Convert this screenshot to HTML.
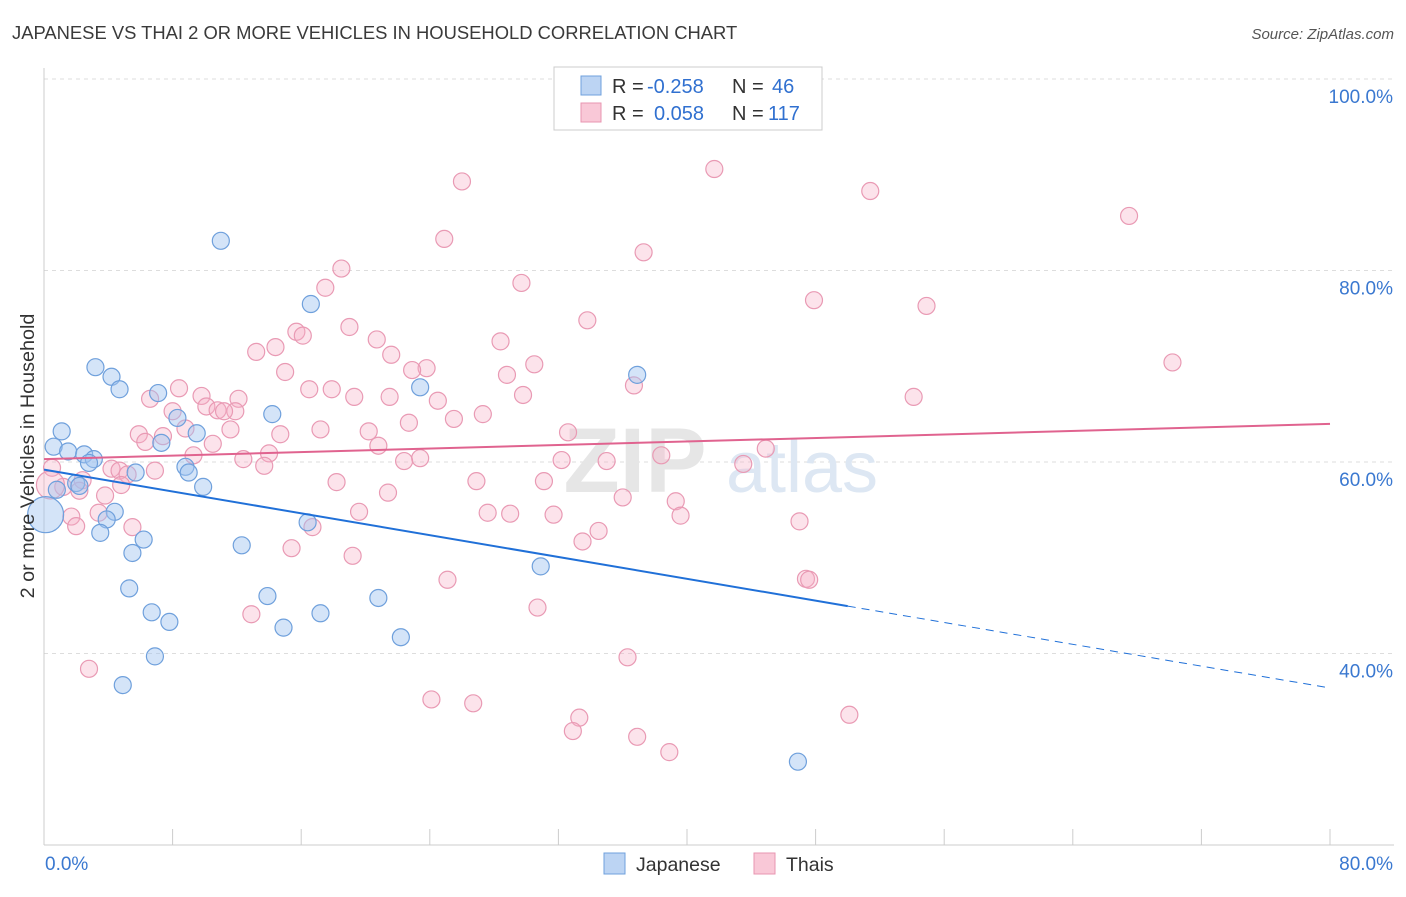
<!DOCTYPE html>
<html><head><meta charset="utf-8">
<style>
body{margin:0;background:#fff;font-family:"Liberation Sans",sans-serif;}
svg text{font-family:"Liberation Sans",sans-serif;}
</style></head>
<body>
<svg id="chart" width="1406" height="892" xmlns="http://www.w3.org/2000/svg">
<text x="12" y="39" font-size="18.4" fill="#3a3a3a">JAPANESE VS THAI 2 OR MORE VEHICLES IN HOUSEHOLD CORRELATION CHART</text>
<text x="1394" y="39" font-size="15" fill="#555" font-style="italic" text-anchor="end">Source: ZipAtlas.com</text>
<g id="grid"></g>
<g>
<text x="635" y="492" font-size="92" fill="#e6e6e6" font-family="Liberation Serif" text-anchor="middle" font-weight="bold">ZIP</text>
<text x="802" y="492" font-size="72" fill="#dde7f3" text-anchor="middle">atlas</text>
</g>
<g id="points"></g>
<g id="lines"></g>
<text transform="translate(34,456) rotate(-90)" font-size="19.8" fill="#333" text-anchor="middle">2 or more Vehicles in Household</text>
<g>
<rect x="554" y="67" width="268" height="63" fill="#fff" stroke="#ccc"/>
<rect x="581" y="76" width="20" height="19" fill="#bcd4f3" stroke="#6fa0dc"/>
<rect x="581" y="103" width="20" height="19" fill="#f9c8d7" stroke="#e896b0"/>
<text x="612" y="93" font-size="20" fill="#333">R =</text>
<text x="647" y="93" font-size="20" fill="#3070d0">-0.258</text>
<text x="732" y="93" font-size="20" fill="#333">N =</text>
<text x="772" y="93" font-size="20" fill="#3070d0">46</text>
<text x="612" y="120" font-size="20" fill="#333">R =</text>
<text x="654" y="120" font-size="20" fill="#3070d0">0.058</text>
<text x="732" y="120" font-size="20" fill="#333">N =</text>
<text x="768" y="120" font-size="20" fill="#3070d0">117</text>
</g>
<g>
<rect x="604" y="853" width="21" height="21" fill="#bcd4f3" stroke="#6fa0dc"/>
<text x="636" y="871" font-size="19.5" fill="#333">Japanese</text>
<rect x="754" y="853" width="21" height="21" fill="#f9c8d7" stroke="#e896b0"/>
<text x="786" y="871" font-size="19.5" fill="#333">Thais</text>
</g>
</svg>
<script>
const xTicks=[0,8,16,24,32,40,48,56,64,72,80];
const yTicks=[40,60,80,100];
const yTickLabels=["40.0%","60.0%","80.0%","100.0%"];
const xEndLabels=["0.0%","80.0%"];
const japX=[11.0,16.6,3.2,4.2,4.7,7.1,8.3,14.2,23.4,36.9,1.1,0.6,1.5,2.5,3.1,2.8,7.3,9.5,8.8,9.0,5.7,9.9,2.0,2.2,0.8,4.4,3.9,16.4,3.5,6.2,12.3,5.5,30.9,5.3,13.9,20.8,6.7,17.2,7.8,14.9,22.2,6.9,4.9,46.9,0.1];
const japY=[83.1,76.5,69.9,68.9,67.6,67.2,64.6,65.0,67.8,69.1,63.2,61.6,61.1,60.8,60.3,59.9,62.0,63.0,59.5,58.9,58.9,57.4,57.8,57.5,57.1,54.8,54.0,53.7,52.6,51.9,51.3,50.5,49.1,46.8,46.0,45.8,44.3,44.2,43.3,42.7,41.7,39.7,36.7,28.7,54.5];
const thaiX=[26.0,41.7,51.4,67.5,24.9,37.3,18.5,29.7,17.5,47.9,54.9,33.8,19.0,15.7,16.1,20.7,28.4,14.4,13.2,21.6,70.2,30.5,23.8,22.9,15.0,28.8,36.7,8.4,16.5,17.9,6.6,9.8,12.1,19.3,21.5,29.8,54.1,24.5,10.1,8.0,10.8,11.9,11.2,27.3,25.5,22.7,11.6,5.9,8.8,7.4,17.2,20.2,32.6,14.7,6.3,10.5,20.8,44.9,14.0,9.3,38.4,23.4,12.4,22.4,32.2,35.0,43.5,13.7,0.5,4.2,4.7,6.9,5.2,2.4,18.2,26.9,31.1,4.8,1.2,2.2,21.4,3.8,36.0,39.3,3.4,27.6,29.0,31.7,19.6,39.6,1.7,47.0,16.7,2.0,5.5,34.5,33.5,15.4,19.2,25.1,47.4,47.6,30.7,12.9,2.8,36.3,24.1,26.7,33.3,50.1,32.9,36.9,38.9,0.4];
const thaiY=[89.3,90.6,88.3,85.7,83.3,81.9,80.2,78.7,78.2,76.9,76.3,74.8,74.1,73.6,73.2,72.8,72.6,72.0,71.5,71.2,70.4,70.2,69.8,69.6,69.4,69.1,68.0,67.7,67.6,67.6,66.6,66.9,66.6,66.8,66.8,67.0,66.8,66.4,65.8,65.3,65.4,65.3,65.3,65.0,64.5,64.1,63.4,62.9,63.5,62.7,63.4,63.2,63.1,62.9,62.1,61.9,61.7,61.4,60.9,60.7,60.7,60.4,60.3,60.1,60.2,60.1,59.8,59.6,59.4,59.3,59.1,59.1,58.7,58.1,57.9,58.0,58.0,57.6,57.4,57.0,56.8,56.5,56.3,55.9,54.7,54.7,54.6,54.5,54.8,54.4,54.3,53.8,53.2,53.3,53.2,52.8,51.7,51.0,50.2,47.7,47.8,47.7,44.8,44.1,38.4,39.6,35.2,34.8,33.3,33.6,31.9,31.3,29.7,57.6];
const japTrend=[59.2,-0.285];
const thaiTrend=[60.3,0.046];
const japSolidEnd=50;

const NS="http://www.w3.org/2000/svg";
const X=v=>44+v*(1286/80);
const Y=v=>79+(100-v)*9.575;
function mk(tag,attrs,parent){const e=document.createElementNS(NS,tag);for(const k in attrs)e.setAttribute(k,attrs[k]);parent.appendChild(e);return e;}
const grid=document.getElementById('grid');
yTicks.forEach((t,i)=>{
  const l=mk('line',{x1:44,x2:1394,y1:Y(t),y2:Y(t),stroke:'#ddd','stroke-dasharray':'4,4'},grid);
  
  
  const tx=mk('text',{x:1393,y:Y(t)+24,'font-size':19,fill:'#3a78d0','text-anchor':'end'},grid);
  tx.textContent=yTickLabels[i];
  
  
});
const ax=mk('line',{x1:44,x2:1394,y1:845,y2:845,stroke:'#ccc'},grid);


const ay=mk('line',{x1:44,x2:44,y1:68,y2:845,stroke:'#ccc'},grid);


xTicks.forEach(t=>{
  const l=mk('line',{x1:X(t),x2:X(t),y1:829,y2:845,stroke:'#ccc'},grid);
  
  
});
[[0,'start',45],[80,'end',1393]].forEach((a,i)=>{
  const tx=mk('text',{x:a[2],y:870,'font-size':19,fill:'#3a78d0','text-anchor':a[1]},grid);
  tx.textContent=xEndLabels[i];
  
  
});
const pts=document.getElementById('points');
thaiX.forEach((x,i)=>{
  const big=i===thaiX.length-1;
  const c=mk('circle',{cx:X(x),cy:Y(thaiY[i]),r:big?14:8.5,fill:'rgba(245,175,198,0.35)',stroke:'#e99ab4','stroke-width':1.2},pts);
  
  
});
japX.forEach((x,i)=>{
  const big=i===japX.length-1;
  const c=mk('circle',{cx:X(x),cy:Y(japY[i]),r:big?18:8.5,fill:'rgba(160,195,240,0.45)',stroke:'#6fa0dc','stroke-width':1.2},pts);
  
  
});
const lines=document.getElementById('lines');
const f=(t,x)=>t[0]+t[1]*x;
const l1=mk('line',{x1:X(0),y1:Y(f(japTrend,0)),x2:X(japSolidEnd),y2:Y(f(japTrend,japSolidEnd)),stroke:'#2070d8','stroke-width':2},lines);


const l2=mk('line',{x1:X(japSolidEnd),y1:Y(f(japTrend,japSolidEnd)),x2:X(80),y2:Y(f(japTrend,80)),stroke:'#2070d8','stroke-width':1,'stroke-dasharray':'8,6'},lines);


const l3=mk('line',{x1:X(0),y1:Y(f(thaiTrend,0)),x2:X(80),y2:Y(f(thaiTrend,80)),stroke:'#e0638f','stroke-width':2},lines);


</script>
</body></html>
